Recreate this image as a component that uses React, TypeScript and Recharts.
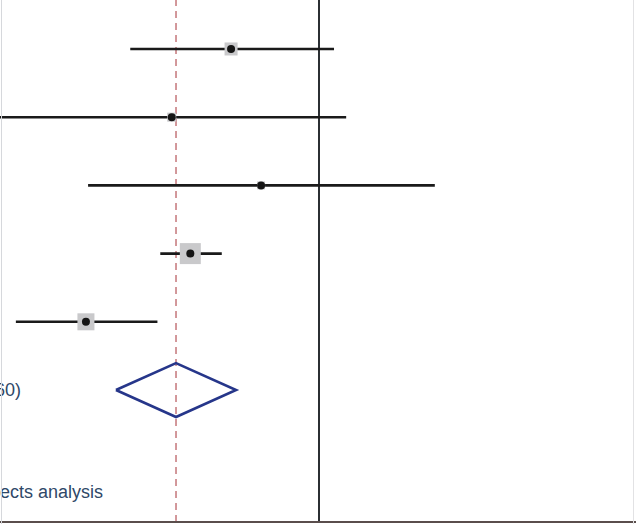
import React from "react";
import { ComposedChart, XAxis, YAxis, Scatter, ReferenceLine } from "recharts";

// Study rows (log effect sizes)
const studyRows = [0, 1, 2, 3, 4];
const estimates = [-0.615, -1.03, -0.405, -0.9, -1.63];
const lowerCI = [-1.32, -2.45, -1.615, -1.11, -2.12];
const upperCI = [0.105, 0.19, 0.81, -0.68, -1.13];
const weights = [16.2, 7.8, 6.1, 42.2, 27.7];

// Pooled estimate
const pooledRow = 5;
const pooledEstimate = -1.0;
const pooledLower = -1.42;
const pooledUpper = -0.58;
const diamondHalfHeight = 0.395;

// Left-column labels (clipped in the crop)
const labelTexts = ["60)", "ects analysis"];
const labelRows = [5, 6.5];

const X_DOMAIN: [number, number] = [-2.231, 2.217];
const Y_DOMAIN: [number, number] = [-0.718, 6.935];

const studyData = studyRows.map((r, i) => ({
  x: estimates[i],
  y: r,
  w: weights[i],
}));

const diamondData = [
  { x: pooledLower, y: pooledRow },
  { x: pooledEstimate, y: pooledRow - diamondHalfHeight },
  { x: pooledUpper, y: pooledRow },
  { x: pooledEstimate, y: pooledRow + diamondHalfHeight },
  { x: pooledLower, y: pooledRow },
];

const labelData = labelTexts.map((t, i) => ({ x: X_DOMAIN[0], y: labelRows[i], label: t }));

const BoxShape = (props: any) => {
  const { cx, cy, payload } = props;
  const side = Math.sqrt(payload.w) * 3.23;
  return (
    <g>
      <rect x={cx - side / 2} y={cy - side / 2} width={side} height={side} fill="#c9c9cb" />
      <circle cx={cx} cy={cy} r={4} fill="#151515" />
    </g>
  );
};

const LabelShape = (props: any) => {
  const { cy, payload } = props;
  const offset = payload.label === "60)" ? -5 : 0;
  return (
    <text
      x={offset}
      y={cy}
      dominantBaseline="central"
      fontFamily="'Liberation Sans', Arial, sans-serif"
      fontSize={18}
      fill="#2f4868"
    >
      {payload.label}
    </text>
  );
};

export default function App() {
  return (
    <div
      style={{
        position: "absolute",
        left: 0,
        top: 0,
        width: 636,
        height: 524,
        background: "#ffffff",
        overflow: "hidden",
      }}
    >
      <ComposedChart width={636} height={524} margin={{ top: 0, right: 0, bottom: 0, left: 0 }}>
        <XAxis
          type="number"
          dataKey="x"
          domain={X_DOMAIN}
          allowDataOverflow
          tick={false}
          tickLine={false}
          height={2}
          axisLine={{ stroke: "#5a4e4c", strokeWidth: 2 }}
        />
        <YAxis type="number" dataKey="y" domain={Y_DOMAIN} reversed hide allowDataOverflow />
        <ReferenceLine x={0} stroke="#2b2f33" strokeWidth={2} ifOverflow="visible" />
        <ReferenceLine
          x={pooledEstimate}
          stroke="#c4767a"
          strokeWidth={1.5}
          strokeDasharray="7 5"
          ifOverflow="visible"
        />
        {studyRows.map((r, i) => (
          <ReferenceLine
            key={i}
            segment={[
              { x: lowerCI[i], y: r },
              { x: upperCI[i], y: r },
            ]}
            stroke="#1a1a1a"
            strokeWidth={2.6}
            ifOverflow="visible"
          />
        ))}
        <Scatter data={studyData} shape={<BoxShape />} isAnimationActive={false} />
        <Scatter
          data={diamondData}
          line={{ stroke: "#26368a", strokeWidth: 2.6 }}
          lineType="joint"
          shape={() => <g />}
          fill="#26368a"
          isAnimationActive={false}
        />
        <Scatter data={labelData} shape={<LabelShape />} isAnimationActive={false} />
      </ComposedChart>
      <div style={{ position: "absolute", left: 1, top: 0, width: 1, height: 524, background: "#d6d8dc" }} />
      <div style={{ position: "absolute", left: 633, top: 0, width: 1, height: 524, background: "#e2e2e4" }} />
    </div>
  );
}
